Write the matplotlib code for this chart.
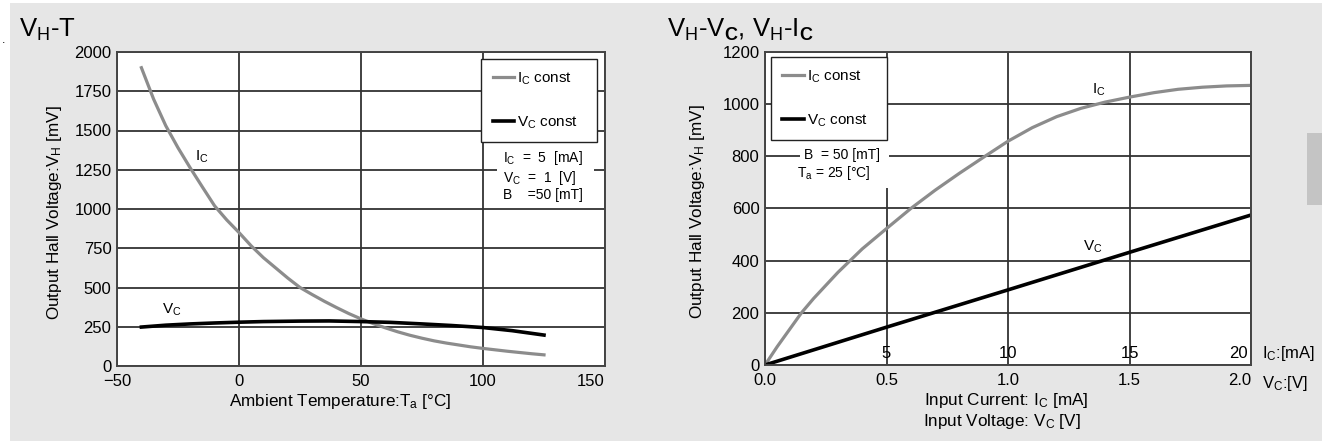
import matplotlib
matplotlib.use("Agg")
import matplotlib.pyplot as plt
from matplotlib.patches import Rectangle

plt.rcParams['font.family'] = ['Liberation Sans', 'DejaVu Sans']
plt.rcParams['mathtext.fontset'] = 'custom'
plt.rcParams['mathtext.rm'] = 'Liberation Sans'
plt.rcParams['mathtext.bf'] = 'Liberation Sans:bold'
plt.rcParams['mathtext.it'] = 'Liberation Sans:italic'

# --- data ---
# V_H - T
temp = [-40, -35, -30, -25, -20, -15, -10, -5, 0, 5, 10, 15, 20, 25, 30, 35, 40, 45, 50,
        55, 60, 65, 70, 75, 80, 85, 90, 95, 100, 105, 110, 115, 120, 125]
vh_ic_const = [1900, 1700, 1530, 1390, 1262, 1140, 1020, 930, 850, 765, 690, 625, 560, 500,
               455, 412, 372, 334, 300, 270, 243, 218, 196, 177, 160, 146, 134, 122, 112,
               103, 94, 86, 78, 71]
temp_vc = [-40, -30, -20, -10, 0, 10, 25, 37, 50, 62, 75, 87, 100, 112, 125]
vh_vc_const = [248, 260, 268, 274, 279, 283, 286, 287, 283, 278, 268, 258, 245, 225, 197]

# V_H - V_C, V_H - I_C  (I_C in mA plotted on 0..20 -> 0..2.0 scale)
ic_ma = [0, 0.5, 1, 1.5, 2, 2.5, 3, 4, 5, 6, 7, 8, 9, 10, 11, 12, 13, 14, 15, 16, 17, 18, 19, 20]
vh_ic = [0, 70, 135, 200, 255, 305, 355, 445, 523, 600, 670, 735, 797, 858, 910, 952, 984,
         1008, 1027, 1044, 1057, 1065, 1070, 1072]
vc_v = [0, 0.5, 1.0, 1.5, 2.0]
vh_vc = [0, 145, 288, 432, 575]

t_ticks = [-50, 0, 50, 100, 150]
vh_ticks_left = [0, 250, 500, 750, 1000, 1250, 1500, 1750, 2000]
vc_ticks = [0.0, 0.5, 1.0, 1.5, 2.0]
ic_ticks = [5, 10, 15, 20]
vh_ticks_right = [0, 200, 400, 600, 800, 1000, 1200]

GREY = '#8c8c8c'
GRID = '#333333'
TICK_FS = 12
LAB_FS = 12.3
LEG_FS = 11

fig = plt.figure(figsize=(13.22, 4.41), dpi=100, facecolor='white')
fig.patches.append(Rectangle((10 / 1322, 0), 1 - 10 / 1322, 1 - 3 / 441,
                             transform=fig.transFigure, facecolor='#e6e6e6',
                             edgecolor='none', zorder=-10))
fig.patches.append(Rectangle((1307 / 1322, 1 - 205 / 441), 15 / 1322, 72 / 441,
                             transform=fig.transFigure, facecolor='#c4c4c4',
                             edgecolor='none', zorder=-9))
fig.text(4 / 1322, 1 - 40 / 441, '.', fontsize=9, ha='center', va='center')

ax1 = fig.add_axes([117 / 1322, 1 - 366 / 441, 488 / 1322, 314 / 441])
ax2 = fig.add_axes([765 / 1322, 1 - 365 / 441, 486 / 1322, 313 / 441])

for ax in (ax1, ax2):
    ax.set_facecolor('white')
    ax.grid(True, color=GRID, lw=1.3)
    ax.set_axisbelow(True)
    for s in ax.spines.values():
        s.set_color('#444444')
        s.set_linewidth(1.4)
    ax.tick_params(length=0, labelsize=TICK_FS)
    ax.tick_params(axis='y', pad=4)
    ax.tick_params(axis='x', pad=6)

leg_kw = dict(loc='upper left', mode='expand', fancybox=False, framealpha=1,
              edgecolor='#222222', fontsize=LEG_FS, handlelength=1.4, handletextpad=0.2,
              labelspacing=1.8, borderpad=0.75, borderaxespad=0)

# ---- left chart ----
ax1.plot(temp, vh_ic_const, color=GREY, lw=2.3, label=r'I$_\mathregular{C}$ const')
ax1.plot(temp_vc, vh_vc_const, color='black', lw=2.6, label=r'V$_\mathregular{C}$ const')
ax1.set_xlim(-50, 150)
ax1.set_ylim(0, 2000)
ax1.set_xticks(t_ticks)
ax1.set_xticklabels(['\u221250', '0', '50', '100', '150'])
ax1.get_xticklabels()[-1].set_ha('right')
ax1.set_yticks(vh_ticks_left)
ax1.set_ylabel(r'Output Hall Voltage:V$_\mathregular{H}$ [mV]', fontsize=LAB_FS)
ax1.yaxis.set_label_coords(-0.129, 0.487)
ax1.yaxis.label.set_va('center')
ax1.text(0.457, -0.114, r'Ambient Temperature:T$_\mathregular{a}$ [°C]', transform=ax1.transAxes,
         ha='center', va='center', fontsize=LAB_FS)
ax1.legend(bbox_to_anchor=(0.746, 0.978, 0.238, 0.0), **leg_kw)
ax1.add_patch(Rectangle((0.779, 0.522), 0.198, 0.166, transform=ax1.transAxes,
                        facecolor='white', edgecolor='none', zorder=1.5))
ax1.text(108, 1385, 'I$_\\mathregular{C}$  =  5  [mA]\nV$_\\mathregular{C}$  =  1  [V]\nB    =50 [mT]',
         fontsize=10, ha='left', va='top', linespacing=1.15, zorder=3)
ax1.text(-15.2, 1331, r'I$_\mathregular{C}$', fontsize=LEG_FS, ha='center', va='center')
ax1.text(-27.5, 357, r'V$_\mathregular{C}$', fontsize=LEG_FS, ha='center', va='center')

# ---- right chart ----
ax2.plot([i / 10 for i in ic_ma], vh_ic, color=GREY, lw=2.3, label=r'I$_\mathregular{C}$ const')
ax2.plot(vc_v, vh_vc, color='black', lw=2.6, label=r'V$_\mathregular{C}$ const')
ax2.set_xlim(0, 2.0)
ax2.set_ylim(0, 1200)
ax2.set_xticks(vc_ticks)
ax2.set_xticklabels(['%.1f' % v for v in vc_ticks])
ax2.get_xticklabels()[-1].set_ha('right')
ax2.set_yticks(vh_ticks_right)
ax2.set_ylabel(r'Output Hall Voltage:V$_\mathregular{H}$ [mV]', fontsize=LAB_FS)
ax2.yaxis.set_label_coords(-0.138, 0.489)
ax2.yaxis.label.set_va('center')
for ic in ic_ticks:
    ax2.text(ic / 10 - (0.012 if ic == 20 else 0), 45, str(ic), fontsize=TICK_FS,
             ha='right' if ic == 20 else 'center', va='center')
ax2.text(1.022, 45, r'I$_\mathregular{C}$:[mA]', transform=ax2.get_yaxis_transform(),
         fontsize=TICK_FS, ha='left', va='center')
ax2.text(1.022, -0.058, r'V$_\mathregular{C}$:[V]', transform=ax2.transAxes,
         fontsize=TICK_FS, ha='left', va='center')
ax2.text(0.496, -0.114, r'Input Current: I$_\mathregular{C}$ [mA]', transform=ax2.transAxes,
         ha='center', va='center', fontsize=LAB_FS)
ax2.text(0.488, -0.181, r'Input Voltage: V$_\mathregular{C}$ [V]', transform=ax2.transAxes,
         ha='center', va='center', fontsize=LAB_FS)
ax2.legend(bbox_to_anchor=(0.012, 0.984, 0.239, 0.0), **leg_kw)
ax2.add_patch(Rectangle((0.072, 0.565), 0.183, 0.157, transform=ax2.transAxes,
                        facecolor='white', edgecolor='none', zorder=1.5))
ax2.text(0.16, 805, 'B  = 50 [mT]', fontsize=10, ha='left', va='center', zorder=3)
ax2.text(0.13, 736, r'T$_\mathregular{a}$ = 25 [°C]', fontsize=10, ha='left', va='center', zorder=3)
ax2.text(1.374, 1054, r'I$_\mathregular{C}$', fontsize=LEG_FS, ha='center', va='center')
ax2.text(1.35, 452, r'V$_\mathregular{C}$', fontsize=LEG_FS, ha='center', va='center')

# titles
fig.text(19 / 1322, 1 - 37 / 441, r'V$_\mathregular{H}$-T', fontsize=18.5, ha='left', va='baseline')
fig.text(667 / 1322, 1 - 37 / 441, r'V$_\mathregular{H}$-V$_\mathbf{C}$, V$_\mathregular{H}$-I$_\mathbf{C}$',
         fontsize=18.5, ha='left', va='baseline')

fig.savefig('out.png', dpi=100, facecolor=fig.get_facecolor())
